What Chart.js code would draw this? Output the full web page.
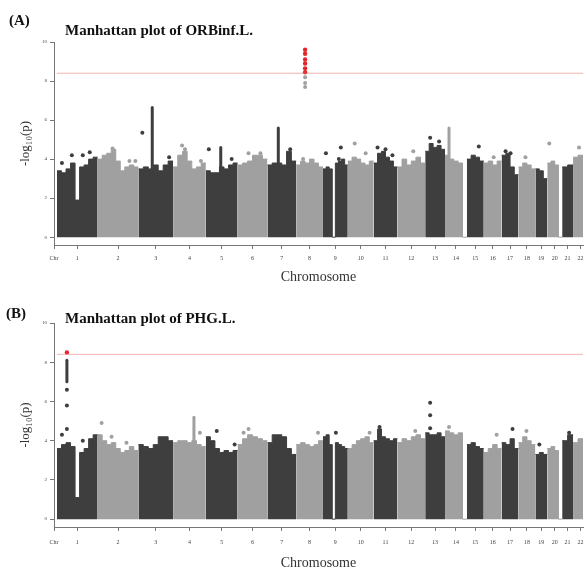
<!DOCTYPE html>
<html>
<head>
<meta charset="utf-8">
<script src="https://cdn.jsdelivr.net/npm/chart.js@4.4.0/dist/chart.umd.min.js"></script>
<style>
    body { margin: 0; background: #fff; }
    #wrap { position: relative; width: 587px; height: 572px; overflow: hidden; font-family: "Liberation Serif", "DejaVu Serif", serif; color: #111; }
    .panel { position: absolute; left: 0; width: 587px; height: 286px; }
    .tag { position: absolute; font-weight: bold; font-size: 15px; white-space: nowrap; }
    .ttl { position: absolute; font-weight: bold; font-size: 15px; white-space: nowrap; }
</style>
</head>
<body>
<div id="wrap">
    <div class="panel" style="top:0"><canvas id="chartA" width="587" height="286"></canvas></div>
    <div class="panel" style="top:286px"><canvas id="chartB" width="587" height="286"></canvas></div>
    <div class="tag" style="left:9px;top:12px">(A)</div>
    <div class="ttl" style="left:65px;top:22px">Manhattan plot of ORBinf.L.</div>
    <div class="tag" style="left:6px;top:305px">(B)</div>
    <div class="ttl" style="left:65px;top:310px">Manhattan plot of PHG.L.</div>
</div>
<script>
// chromosome sizes (Mb, as spaced on the plot)
const chromosomes = ['1', '2', '3', '4', '5', '6', '7', '8', '9', '10', '11', '12', '13', '14', '15', '16', '17', '18', '19', '20', '21', '22'];
const chrLengths = [246, 246, 210, 198, 192, 180, 174, 162, 150, 156, 144, 168, 120, 132, 102, 108, 102, 102, 72, 90, 66, 90];
const axisStart = 18;
const axisEnd = 3198;
const xTickLabels = ['Chr'].concat(chromosomes);
const yTicks = [0, 2, 4, 6, 8, 10];
const threshold = 8.4;

// (A) ORBinf.L - top of the dense SNP cloud along each chromosome
const profileA = [
    [3.4, 3.3, 3.5, 3.8, 1.9, 3.6, 3.7, 4.0, 4.1],
    [4.0, 4.2, 4.3, 4.5, 3.9, 3.4, 3.6, 3.7, 3.6],
    [3.5, 3.6, 3.5, 3.7, 3.4, 3.7, 3.9],
    [3.6, 4.2, 4.4, 3.9, 3.5, 3.6, 3.8],
    [3.4, 3.3, 3.3, 3.6, 3.5, 3.7, 3.8],
    [3.7, 3.8, 3.9, 4.2, 4.2, 4.0],
    [3.7, 3.8, 3.8, 3.7, 4.4, 3.9],
    [3.7, 3.9, 3.8, 4.0, 3.8, 3.6],
    [3.5, 3.6, 3.5, 0, 3.8, 3.9, 4.0, 3.7],
    [3.9, 4.1, 4.0, 3.8, 3.7, 3.9],
    [3.8, 4.3, 4.4, 4.1, 3.9, 3.6],
    [3.6, 4.0, 3.7, 3.9, 4.1, 3.8],
    [4.4, 4.8, 4.6, 4.7, 4.5],
    [4.2, 4.0, 3.9, 3.8, 0],
    [4.0, 4.2, 4.1, 3.9],
    [3.8, 3.9, 3.7, 3.9],
    [4.2, 4.3, 3.6, 3.2],
    [3.6, 3.8, 3.7, 3.5],
    [3.5, 3.4, 3.0],
    [3.8, 3.9, 3.7, 0],
    [3.6, 3.7],
    [4.1, 4.2, 4.0]
];
// [chromosome, position in chromosome (Mb), -log10(p)]
const hitsA = [
    [1, 30, 3.8], [1, 90, 4.2], [1, 156, 4.2], [1, 198, 4.35],
    [2, 90, 4.55], [2, 192, 3.9], [2, 228, 3.9],
    [3, 24, 5.35], [3, 186, 4.1],
    [4, 54, 4.7], [4, 72, 4.5], [4, 168, 3.9],
    [5, 18, 4.5], [5, 156, 4.0],
    [6, 66, 4.3], [6, 138, 4.3],
    [7, 138, 4.5],
    [8, 42, 4.0], [8, 54, 8.2], [8, 54, 7.9], [8, 54, 7.7],
    [9, 18, 4.3], [9, 96, 4.0], [9, 108, 4.6],
    [10, 42, 4.8], [10, 108, 4.3],
    [11, 24, 4.6], [11, 72, 4.5], [11, 114, 4.2],
    [12, 96, 4.4],
    [13, 30, 5.1], [13, 84, 4.9],
    [15, 72, 4.65],
    [16, 60, 4.1],
    [17, 24, 4.4], [17, 54, 4.3],
    [18, 42, 4.1],
    [20, 12, 4.8],
    [22, 36, 4.6]
];
const signalsA = [[8, 54, 9.6], [8, 54, 9.4], [8, 54, 9.1], [8, 54, 8.9], [8, 54, 8.65], [8, 54, 8.45]];
// dense columns: [chromosome, position, from, to]
const columnsA = [[3, 84, 3.5, 6.65], [5, 90, 3.3, 4.6], [7, 66, 3.8, 5.6], [14, 24, 4.0, 5.6]];

// (B) PHG.L
const profileB = [
    [3.6, 3.8, 3.9, 3.7, 1.1, 3.4, 3.6, 4.1, 4.3],
    [4.3, 4.0, 3.8, 3.9, 3.6, 3.4, 3.5, 3.7, 3.5],
    [3.8, 3.7, 3.6, 3.8, 4.2, 4.2, 4.0],
    [3.9, 4.0, 4.0, 3.9, 4.0, 3.8, 3.7],
    [4.2, 4.0, 3.6, 3.4, 3.5, 3.4, 3.5],
    [3.8, 4.1, 4.3, 4.2, 4.1, 4.0],
    [3.9, 4.3, 4.3, 4.2, 3.6, 3.3],
    [3.8, 3.9, 3.8, 3.7, 3.8, 4.0],
    [4.2, 4.3, 3.8, 0, 3.9, 3.8, 3.7, 3.6],
    [3.6, 3.8, 4.0, 4.1, 4.2, 3.9],
    [4.0, 4.6, 4.2, 4.1, 4.0, 4.1],
    [3.9, 4.1, 4.0, 4.2, 4.3, 4.1],
    [4.4, 4.3, 4.3, 4.4, 4.2],
    [4.5, 4.4, 4.3, 4.4, 0],
    [3.8, 3.9, 3.7, 3.6],
    [3.4, 3.6, 3.8, 3.6],
    [3.9, 3.8, 4.1, 3.6],
    [3.9, 4.2, 4.0, 3.8],
    [3.3, 3.4, 3.3],
    [3.6, 3.7, 3.5, 0],
    [4.0, 4.3],
    [3.9, 4.1, 4.0]
];
const hitsB = [
    [1, 60, 6.6], [1, 60, 5.8], [1, 60, 4.6], [1, 30, 4.3], [1, 156, 4.0],
    [2, 24, 4.9], [2, 84, 4.2], [2, 174, 3.9],
    [4, 162, 4.4],
    [5, 66, 4.5], [5, 174, 3.8],
    [6, 36, 4.4], [6, 66, 4.6],
    [8, 132, 4.4],
    [9, 78, 4.4],
    [10, 132, 4.4],
    [11, 36, 4.7],
    [12, 108, 4.5],
    [13, 30, 5.93], [13, 30, 5.3], [13, 30, 4.64],
    [14, 24, 4.7],
    [16, 78, 4.3],
    [17, 66, 4.6],
    [18, 48, 4.5],
    [19, 24, 3.8],
    [21, 42, 4.4]
];
const signalsB = [[1, 60, 8.5]];
const columnsB = [[1, 60, 7.0, 8.1], [4, 126, 4.0, 5.2]];

const SERIF = '"Liberation Serif", "DejaVu Serif", serif';
const DARK = '#3e3e3e';
const LIGHT = '#a0a0a0';

document.addEventListener('DOMContentLoaded', () => {
    const starts = [];
    let pos = axisStart;
    chrLengths.forEach(len => {
        starts.push(pos);
        pos += len;
    });
    const centers = starts.map((s, i) => s + chrLengths[i] / 2);
    const colorOf = chr => (chr % 2 === 1 ? DARK : LIGHT);

    function buildPanel(canvasId, profile, hits, signals, columns, layout) {
        const datasets = [];

        // filled blocks for the bulk of each chromosome
        profile.forEach((heights, i) => {
            const n = heights.length;
            const pts = heights.map((h, k) => ({ x: starts[i] + k * chrLengths[i] / n, y: h }));
            pts.push({ x: starts[i] + chrLengths[i], y: heights[n - 1] });
            datasets.push({
                type: 'line', data: pts, stepped: true, fill: 'origin',
                backgroundColor: colorOf(i + 1), borderColor: colorOf(i + 1),
                borderWidth: 1, pointRadius: 0, order: 4
            });
        });

        columns.forEach(c => {
            const x = starts[c[0] - 1] + c[1];
            datasets.push({
                type: 'line', data: [{ x: x, y: c[2] }, { x: x, y: c[3] }],
                borderColor: colorOf(c[0]), borderWidth: 3, borderCapStyle: 'round',
                pointRadius: 0, order: 3
            });
        });

        datasets.push({
            type: 'scatter',
            data: hits.map(h => ({ x: starts[h[0] - 1] + h[1], y: h[2] })),
            pointBackgroundColor: hits.map(h => colorOf(h[0])),
            pointBorderWidth: 0, pointRadius: 2, order: 2
        });

        datasets.push({
            type: 'scatter',
            data: signals.map(h => ({ x: starts[h[0] - 1] + h[1], y: h[2] })),
            pointBackgroundColor: '#e2262b', pointBorderWidth: 0, pointRadius: 2.2, order: 1
        });

        datasets.push({
            type: 'line',
            data: [{ x: axisStart, y: threshold }, { x: axisEnd, y: threshold }],
            borderColor: 'rgba(228, 120, 120, 0.55)', borderWidth: 1, pointRadius: 0, order: 0
        });

        new Chart(document.getElementById(canvasId), {
            type: 'scatter',
            data: { datasets: datasets },
            options: {
                responsive: false,
                animation: false,
                events: [],
                layout: { padding: { top: layout.top, left: 0, right: 0, bottom: 0 } },
                plugins: { legend: { display: false }, tooltip: { enabled: false } },
                scales: {
                    x: {
                        type: 'linear', min: 0, max: axisEnd, offset: false,
                        afterBuildTicks: scale => {
                            scale.ticks = [0].concat(centers).map(v => ({ value: v }));
                        },
                        afterFit: scale => {
                            scale.height = layout.xHeight;
                            scale.paddingLeft = 0;
                            scale.paddingRight = 0;
                        },
                        ticks: {
                            autoSkip: false, maxRotation: 0, color: '#444',
                            font: { family: SERIF, size: 6 }, padding: layout.tickPad,
                            callback: (value, index) => xTickLabels[index]
                        },
                        grid: { drawOnChartArea: false, drawTicks: true, tickLength: 4, color: '#777' },
                        border: { display: true, color: '#777' },
                        title: {
                            display: true, text: 'Chromosome', color: '#333',
                            font: { family: SERIF, size: 14 }, padding: { top: 0, bottom: 0 }
                        }
                    },
                    y: {
                        min: -0.4, max: 10,
                        afterBuildTicks: scale => {
                            scale.ticks = yTicks.map(v => ({ value: v }));
                        },
                        afterFit: scale => {
                            scale.width = 54;
                            scale.paddingTop = 0;
                            scale.paddingBottom = 0;
                        },
                        ticks: { color: '#444', font: { family: SERIF, size: 5 }, padding: 3 },
                        grid: { drawOnChartArea: false, drawTicks: true, tickLength: 4, color: '#777' },
                        border: { display: true, color: '#777' },
                        title: {
                            display: true, text: '-log\u2081\u2080(p)', color: '#333',
                            font: { family: SERIF, size: 13 }, padding: { top: 18, bottom: 0 }
                        }
                    }
                }
            }
        });
    }

    buildPanel('chartA', profileA, hitsA, signalsA, columnsA, { top: 42, xHeight: 41, tickPad: 6 });
    buildPanel('chartB', profileB, hitsB, signalsB, columnsB, { top: 37, xHeight: 45, tickPad: 8 });
});
</script>
</body>
</html>
